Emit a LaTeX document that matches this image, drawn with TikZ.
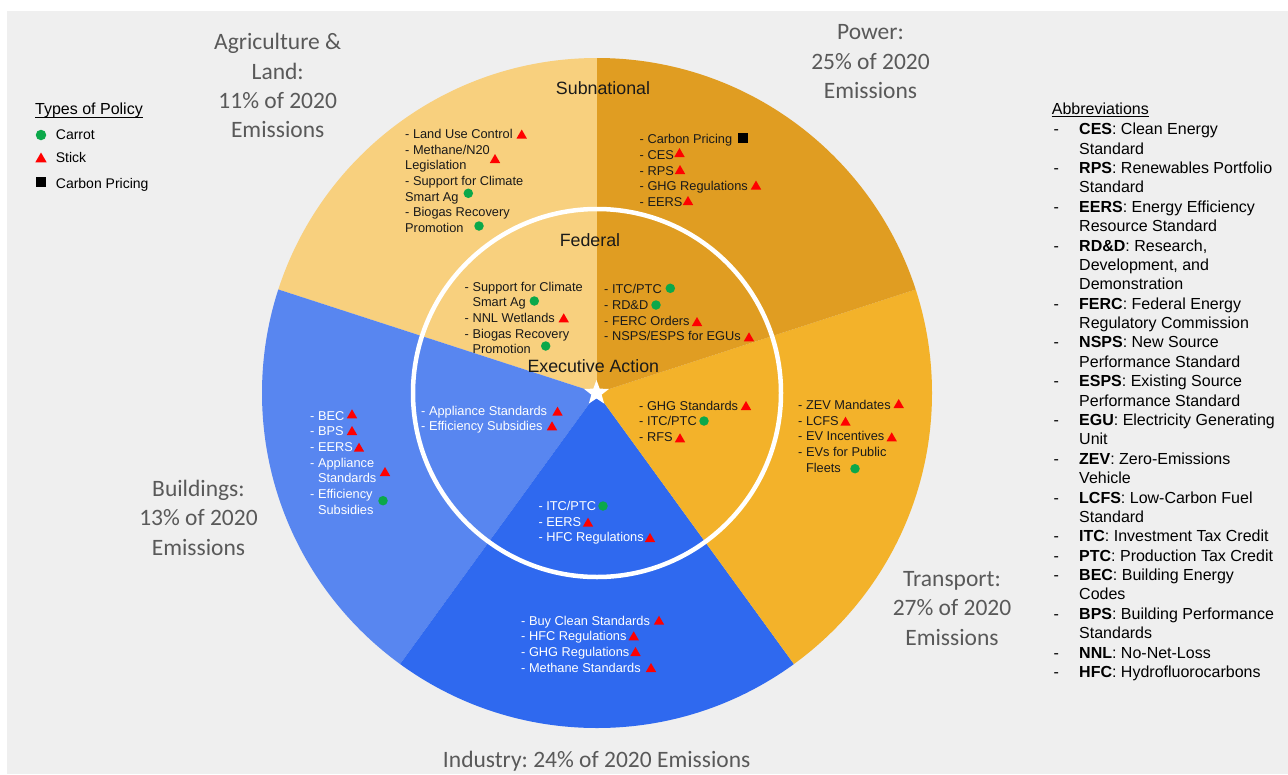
\documentclass[tikz,border=0pt]{standalone}
\usepackage{fontspec}
\setmainfont{Liberation Sans}
\newfontfamily\labelfont{Carlito}
\usetikzlibrary{shapes.geometric}

\definecolor{bgc}{HTML}{EFEFEF}
\definecolor{agcol}{HTML}{F8D07E}
\definecolor{powcol}{HTML}{E09D22}
\definecolor{tracol}{HTML}{F3B22A}
\definecolor{indcol}{HTML}{2F69EF}
\definecolor{bldcol}{HTML}{5886F0}
\definecolor{labelgray}{HTML}{595959}
\definecolor{carrotgreen}{HTML}{0BA84A}
\definecolor{stickred}{HTML}{FF0000}
\definecolor{inktext}{HTML}{1A1A1A}

\newcommand{\plines}[1]{\begin{tabular}[t]{@{}l@{}}#1\end{tabular}}
\newcommand{\clines}[1]{\begin{tabular}[t]{@{}c@{}}#1\end{tabular}}
\newcommand{\ind}{\phantom{- }}

\frenchspacing
\begin{document}
\begin{tikzpicture}[x=1pt,y=-1pt,
  pietext/.style={anchor=base west, inner sep=0, text=inktext,
    font=\fontsize{12.8}{15.7}\selectfont},
  pietextw/.style={pietext, text=white},
  ringhead/.style={anchor=base, inner sep=0, text=inktext,
    font=\fontsize{17.8}{21}\selectfont},
  sector/.style={anchor=base, inner sep=0, text=labelgray,
    font=\labelfont\fontsize{23.5}{29.2}\selectfont},
  carrotmark/.style={circle, fill=carrotgreen, inner sep=0, minimum size=9.5pt},
  stickmark/.style={regular polygon, regular polygon sides=3, fill=stickred,
    inner sep=0, minimum size=12pt, yshift=-1pt},
  pricemark/.style={rectangle, fill=black, inner sep=0, minimum size=10pt},
  keytext/.style={anchor=base west, inner sep=0, text=black,
    font=\fontsize{14}{17}\selectfont},
  keyhead/.style={anchor=base west, inner sep=0, text=black,
    font=\fontsize{16}{19.38}\selectfont},
]

% page and panel
\fill[white] (0,0) rectangle (1288,774);
\fill[bgc] (7,11) rectangle (1288,774);

% five equal sectors of the policy wheel
\begin{scope}
  \clip (597,393) circle[radius=335];
  \fill[agcol]  (597,393) -- (597,-207)    -- (26.3,207.6)  -- cycle;
  \fill[bldcol] (597,393) -- (26.3,207.6)  -- (244.3,878.4) -- cycle;
  \fill[indcol] (597,393) -- (244.3,878.4) -- (949.7,878.4) -- cycle;
  \fill[tracol] (597,393) -- (949.7,878.4) -- (1167.7,207.6) -- cycle;
  \fill[powcol] (597,393) -- (1167.7,207.6) -- (597,-207)   -- cycle;
\end{scope}

% federal ring and executive-action star
\draw[white, line width=4.5pt] (597,393) circle[radius=184];
\node[star, star points=5, star point ratio=2.4, fill=white, minimum size=26pt,
  inner sep=0] (centerstar) at (596.5,393) {};

% ring headings
\node[ringhead] (subnat) at (603,94.7) {Subnational};
\node[ringhead] (federal) at (590,246.4) {Federal};
\node[ringhead] (execact) at (593.3,372.4) {Executive Action};

% sector labels
\node[sector] (agl) at (277.7,49.9) {\clines{Agriculture \&\\Land:\\11\% of 2020\\Emissions}};
\node[sector] (powl) at (870.5,39.9) {\clines{Power:\\25\% of 2020\\Emissions}};
\node[sector] (bldl) at (198.5,496.6) {\clines{Buildings:\\13\% of 2020\\Emissions}};
\node[sector] (tral) at (952,586.6) {\clines{Transport:\\27\% of 2020\\Emissions}};
\node[sector] (indl) at (596.7,767.6) {Industry: 24\% of 2020 Emissions};

% subnational policies
\node[pietext] (agsub) at (405,138.4) {\plines{- Land Use Control\\- Methane/N20\\Legislation\\- Support for Climate\\Smart Ag\\- Biogas Recovery\\Promotion}};
\node[pietext] (powsub) at (639.5,143.7) {\plines{- Carbon Pricing\\- CES\\- RPS\\- GHG Regulations\\- EERS}};
\node[pietextw] (bldsub) at (310,420.1) {\plines{- BEC\\- BPS\\- EERS\\- Appliance\\\ind Standards\\- Efficiency\\\ind Subsidies}};
\node[pietext] (trasub) at (798,409.4) {\plines{- ZEV Mandates\\- LCFS\\- EV Incentives\\- EVs for Public\\\ind Fleets}};
\node[pietextw] (indsub) at (521,625.1) {\plines{- Buy Clean Standards\\- HFC Regulations\\- GHG Regulations\\- Methane Standards}};

% federal policies
\node[pietext] (agfed) at (464.5,291.1) {\plines{- Support for Climate\\\ind Smart Ag\\- NNL Wetlands\\- Biogas Recovery\\\ind Promotion}};
\node[pietext] (powfed) at (604,293.7) {\plines{- ITC/PTC\\- RD\&D\\- FERC Orders\\- NSPS/ESPS for EGUs}};
\node[pietextw] (bldfed) at (421,415.1) {\plines{- Appliance Standards\\- Efficiency Subsidies}};
\node[pietext] (trafed) at (639,410.1) {\plines{- GHG Standards\\- ITC/PTC\\- RFS}};
\node[pietextw] (indfed) at (538.3,510.4) {\plines{- ITC/PTC\\- EERS\\- HFC Regulations}};

% policy-type markers
\foreach \x/\y [count=\i] in {
  521.7/134.5, 495/159,
  679.5/153, 680/170, 756/185.5, 688/201,
  563.7/318.3, 697/322, 749/337.3,
  557.5/411.7, 552/426.3,
  746/406, 680/438.3,
  588/522.7, 650/538,
  352/414.3, 352/431, 359/447.7, 385/472,
  898.7/404, 845.5/421.7, 891.7/437.3,
  659/620.7, 633.7/636.3, 635.5/652, 651/668}
  \node[stickmark] (stick\i) at (\x,\y) {};
\foreach \x/\y [count=\i] in {
  468.3/193.3, 479/226,
  534.3/301, 545.7/346,
  670.3/288.3, 656/305,
  704/421, 603/506,
  383/500.7, 855/468.7}
  \node[carrotmark] (carrot\i) at (\x,\y) {};
\node[pricemark] (price1) at (743.3,138.3) {};

% legend of policy types
\node[keyhead] (keytitle) at (35,114.7) {Types of Policy};
\draw[line width=1.1pt] ([yshift=-2.4pt]keytitle.base west) -- ([yshift=-2.4pt]keytitle.base east);
\node[carrotmark, minimum size=10.5pt] (keycarrot) at (41,135) {};
\node[stickmark, minimum size=13pt] (keystick) at (41,158) {};
\node[pricemark] (keyprice) at (41,182) {};
\node[keytext] (keycarrottxt) at (55.7,139) {Carrot};
\node[keytext] (keysticktxt) at (55.7,162.7) {Stick};
\node[keytext] (keypricetxt) at (55.7,188.7) {Carbon Pricing};

% abbreviations
\node[keyhead] (abbrtitle) at (1051.7,114.7) {Abbreviations};
\draw[line width=1.1pt] ([yshift=-1.8pt]abbrtitle.base west) -- ([yshift=-1.8pt]abbrtitle.base east);
\node[keyhead] (abbrlist) at (1053.3,134.8) {\begin{tabular}[t]{@{}p{25.7pt}@{}l@{}}
- & \textbf{CES}: Clean Energy\\ & Standard\\
- & \textbf{RPS}: Renewables Portfolio\\ & Standard\\
- & \textbf{EERS}: Energy Efficiency\\ & Resource Standard\\
- & \textbf{RD\&D}: Research,\\ & Development, and\\ & Demonstration\\
- & \textbf{FERC}: Federal Energy\\ & Regulatory Commission\\
- & \textbf{NSPS}: New Source\\ & Performance Standard\\
- & \textbf{ESPS}: Existing Source\\ & Performance Standard\\
- & \textbf{EGU}: Electricity Generating\\ & Unit\\
- & \textbf{ZEV}: Zero-Emissions\\ & Vehicle\\
- & \textbf{LCFS}: Low-Carbon Fuel\\ & Standard\\
- & \textbf{ITC}: Investment Tax Credit\\
- & \textbf{PTC}: Production Tax Credit\\
- & \textbf{BEC}: Building Energy\\ & Codes\\
- & \textbf{BPS}: Building Performance\\ & Standards\\
- & \textbf{NNL}: No-Net-Loss\\
- & \textbf{HFC}: Hydrofluorocarbons
\end{tabular}};

\pgfresetboundingbox
\path[use as bounding box] (0,0) rectangle (1288,774);
\end{tikzpicture}
\end{document}
